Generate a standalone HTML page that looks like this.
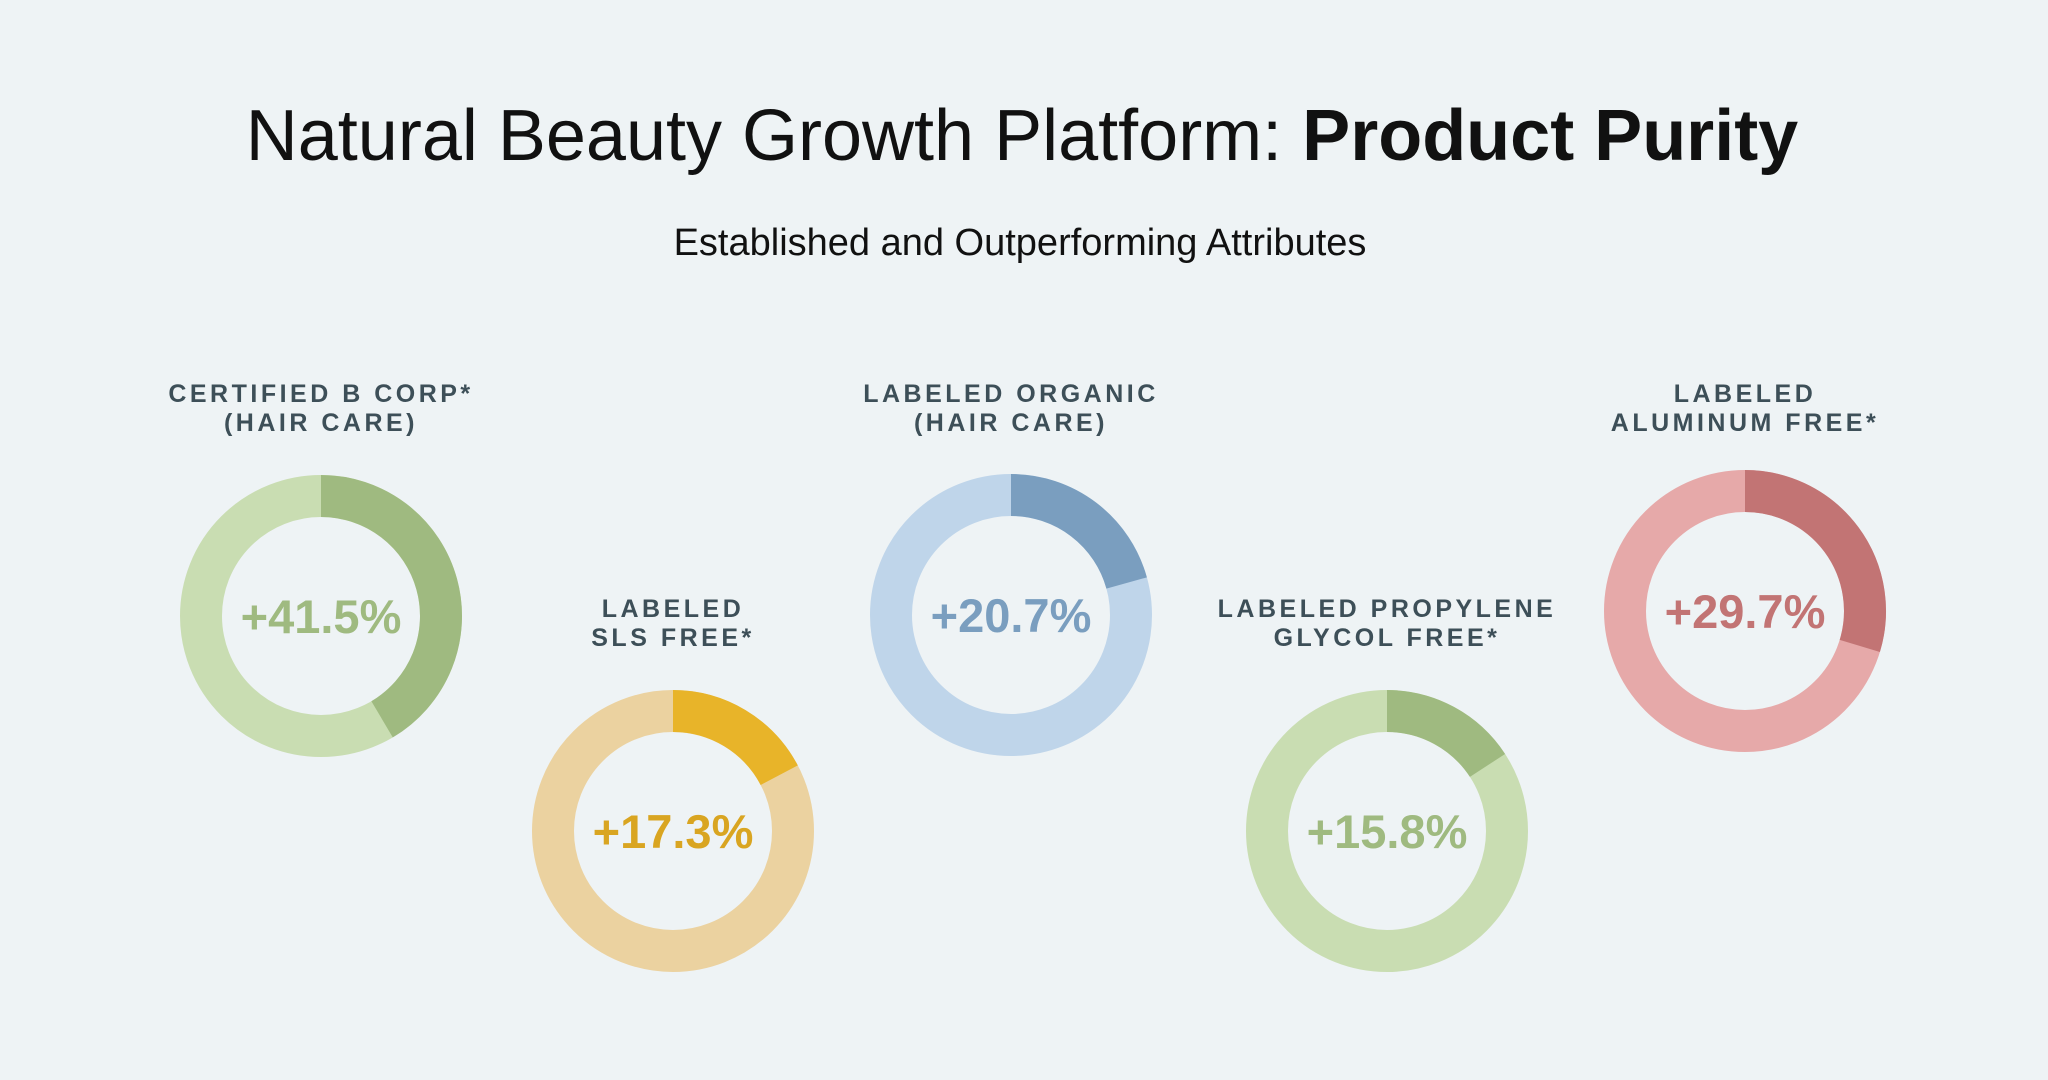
<!DOCTYPE html>
<html><head><meta charset="utf-8"><style>
html,body{margin:0;padding:0;background:#eef3f5;}
body{width:2048px;height:1075px;overflow:hidden;font-family:"Liberation Sans",sans-serif;}
</style></head><body>
<svg id="chart" width="2048" height="1075" viewBox="0 0 2048 1075" xmlns="http://www.w3.org/2000/svg">
<rect width="2048" height="1075" fill="#eef3f5"/>
<text x="1022" y="160" text-anchor="middle" font-size="72" fill="#111" font-family="Liberation Sans, sans-serif">Natural Beauty Growth Platform: <tspan font-weight="bold">Product Purity</tspan></text>
<text x="1020" y="255" text-anchor="middle" font-size="38" fill="#111" font-family="Liberation Sans, sans-serif">Established and Outperforming Attributes</text>
<g id="donuts"></g>
</svg>
<script>
const categories = [["CERTIFIED B CORP*","(HAIR CARE)"],["LABELED","SLS FREE*"],["LABELED ORGANIC","(HAIR CARE)"],["LABELED PROPYLENE","GLYCOL FREE*"],["LABELED","ALUMINUM FREE*"]];
const values = [41.5, 17.3, 20.7, 15.8, 29.7];
const valueLabels = ["+41.5%","+17.3%","+20.7%","+15.8%","+29.7%"];
const layout = [{cx:321,cy:616,ly:402},{cx:673,cy:831,ly:617},{cx:1011,cy:615,ly:402},{cx:1387,cy:831,ly:617},{cx:1745,cy:611,ly:402}];
const colors = [{l:"#c9ddb2",d:"#9fba80",t:"#9fba80"},{l:"#ebd2a0",d:"#e8b429",t:"#d9a521"},{l:"#bfd5ea",d:"#7a9ebf",t:"#7a9ebf"},{l:"#c9ddb2",d:"#9fba80",t:"#9fba80"},{l:"#e6a9a9",d:"#c27474",t:"#c27474"}];
const NS="http://www.w3.org/2000/svg";
const g=document.getElementById("donuts");
const R=120, W=42;
function angle(v){return v/100*2*Math.PI;}
function pt(cx,cy,a){return [cx+R*Math.sin(a), cy-R*Math.cos(a)];}
values.forEach((v,i)=>{
  const L=layout[i], c=colors[i];
  const grp=document.createElementNS(NS,"g");
  
  
  const bg=document.createElementNS(NS,"circle");
  bg.setAttribute("cx",L.cx);bg.setAttribute("cy",L.cy);bg.setAttribute("r",R);
  bg.setAttribute("fill","none");bg.setAttribute("stroke",c.l);bg.setAttribute("stroke-width",W);
  
  
  grp.appendChild(bg);
  const a=angle(v);const [x0,y0]=pt(L.cx,L.cy,0);const [x1,y1]=pt(L.cx,L.cy,a);
  const arc=document.createElementNS(NS,"path");
  arc.setAttribute("d",`M${x0},${y0} A${R},${R} 0 ${a>Math.PI?1:0} 1 ${x1},${y1}`);
  arc.setAttribute("fill","none");arc.setAttribute("stroke",c.d);arc.setAttribute("stroke-width",W);
  
  
  grp.appendChild(arc);
  const t=document.createElementNS(NS,"text");
  t.setAttribute("x",L.cx);t.setAttribute("y",L.cy+17);t.setAttribute("text-anchor","middle");
  t.setAttribute("font-size","47");t.setAttribute("font-weight","bold");t.setAttribute("fill",c.t);
  t.textContent=valueLabels[i];
  
  
  grp.appendChild(t);
  categories[i].forEach((line,j)=>{
    const lt=document.createElementNS(NS,"text");
    lt.setAttribute("x",L.cx);lt.setAttribute("y",L.ly+j*29);lt.setAttribute("text-anchor","middle");
    lt.setAttribute("font-size","25");lt.setAttribute("font-weight","bold");lt.setAttribute("fill","#3d4f58");
    lt.setAttribute("letter-spacing","3.5");
    lt.textContent=line;
    
    
    grp.appendChild(lt);
  });
  g.appendChild(grp);
});
</script>
</body></html>
